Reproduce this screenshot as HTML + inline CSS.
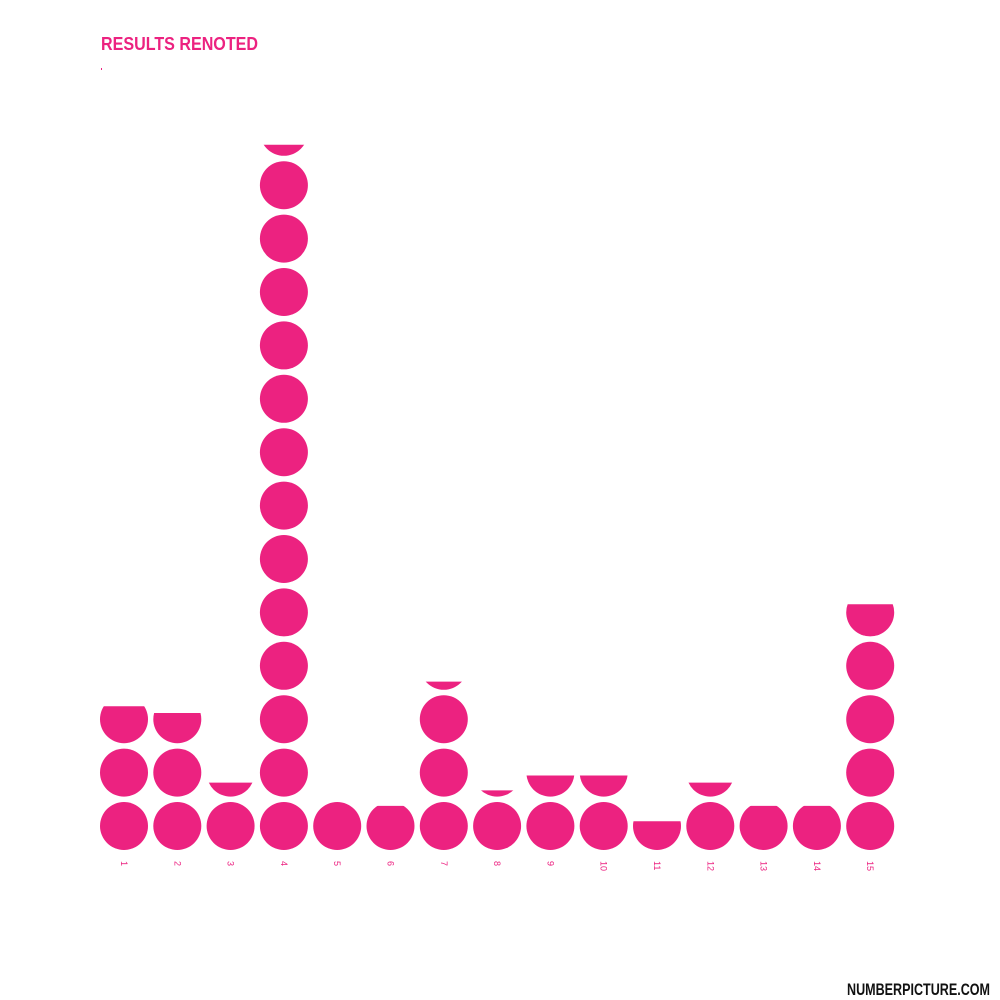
<!DOCTYPE html>
<html><head><meta charset="utf-8"><style>
html,body{margin:0;padding:0;background:#fff;}
svg{display:block;}
</style></head><body>
<svg id="chart" width="1000" height="1000" viewBox="0 0 1000 1000" xmlns="http://www.w3.org/2000/svg">
<text x="101" y="50" font-family="Liberation Sans, sans-serif" font-weight="bold" font-size="18" fill="#ec2280" textLength="157" lengthAdjust="spacingAndGlyphs">RESULTS RENOTED</text>
<rect x="101" y="68" width="1" height="2" fill="#ec2280"/>
<g id="marks"></g>
<text x="847" y="995" font-family="Liberation Sans, sans-serif" font-weight="bold" font-size="17" fill="#111" textLength="143" lengthAdjust="spacingAndGlyphs">NUMBERPICTURE.COM</text>
</svg>
<script>
const categories = ["1","2","3","4","5","6","7","8","9","10","11","12","13","14","15"];
const values = [2.77, 2.63, 1.29, 13.23, 1.0, 0.92, 3.17, 1.13, 1.44, 1.44, 0.6, 1.29, 0.92, 0.92, 4.67];

const NS = "http://www.w3.org/2000/svg";
const g = document.getElementById("marks");
const x0 = 124, dx = 53.3, yBase = 826, dy = 53.4, r = 24;
function xPos(i){ return x0 + i*dx; }
function yPos(k){ return yBase - k*dy; }
const defs = document.createElementNS(NS,"defs");
document.getElementById("chart").appendChild(defs);

categories.forEach((c,i)=>{
  const v = values[i];
  const cx = xPos(i);
  const n = Math.ceil(v);
  for(let k=0;k<n;k++){
    const cy = yPos(k);
    const frac = Math.min(1, v-k);
    const circ = document.createElementNS(NS,"circle");
    
    
    circ.setAttribute("cx", cx); circ.setAttribute("cy", cy); circ.setAttribute("r", r);
    circ.setAttribute("fill", "#ec2280");
    if(frac < 1){
      const cp = document.createElementNS(NS,"clipPath");
      const id = "clip"+i+"_"+k;
      cp.setAttribute("id", id);
      const rc = document.createElementNS(NS,"rect");
      const top = cy + r - frac*2*r;
      rc.setAttribute("x", cx-r-1); rc.setAttribute("y", top);
      rc.setAttribute("width", 2*r+2); rc.setAttribute("height", frac*2*r+1);
      cp.appendChild(rc); defs.appendChild(cp);
      circ.setAttribute("clip-path", "url(#"+id+")");
    }
    g.appendChild(circ);
  }
  const t = document.createElementNS(NS,"text");
  
  
  t.setAttribute("x", cx-3); t.setAttribute("y", 861);
  t.setAttribute("transform", "rotate(90 "+(cx-3)+" 861)");
  t.setAttribute("font-family", "Liberation Sans, sans-serif");
  t.setAttribute("font-size", "9");
  t.setAttribute("fill", "#ec2280");
  t.textContent = c;
  g.appendChild(t);
});
</script>
</body></html>
